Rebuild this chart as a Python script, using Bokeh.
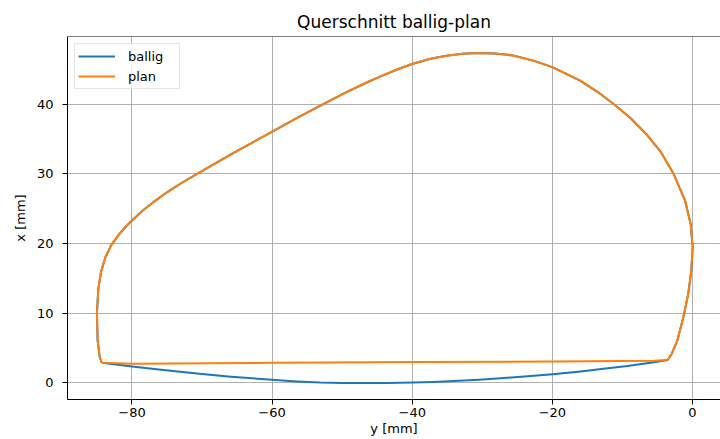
from bokeh.plotting import figure
from bokeh.models import Range1d, FixedTicker, Span
from bokeh.embed import file_html
from bokeh.resources import INLINE

# ---- data ----
# shared outer contour (horizontal value "y [mm]", vertical value "x [mm]")
upper_y = [-84.3, -84.6, -84.9, -84.95, -85.0, -84.8, -84.4, -83.8, -83.0, -82.0,
           -81.0, -80.0, -78.5, -77.0, -75.0, -73.0, -70.7, -65.5, -59.9, -56.3,
           -52.7, -49.6, -46.5, -44.6, -41.7, -39.9, -37.4, -35.1, -32.8, -30.8,
           -28.2, -25.6, -22.6, -20.0, -16.1, -13.6, -11.3, -8.85, -6.5, -4.5,
           -2.7, -1.07, -0.26, 0.03, -0.17, -0.6, -1.31, -2.17, -2.97, -3.55]
upper_x = [2.9, 3.7, 6.1, 8.0, 10.0, 13.5, 16.0, 18.0, 19.7, 21.1,
           22.3, 23.3, 24.7, 25.9, 27.35, 28.65, 30.0, 33.0, 36.1, 38.1,
           40.0, 41.6, 43.1, 43.95, 45.15, 45.8, 46.5, 46.95, 47.22, 47.35,
           47.27, 46.98, 46.2, 45.3, 43.4, 41.8, 40.05, 38.0, 35.6, 33.1,
           30.0, 26.2, 22.8, 19.5, 16.1, 12.8, 9.4, 6.07, 4.16, 3.3]

# bottom edge, "ballig" (crowned)
ballig_bot_y = [-3.55, -5.5, -7.5, -9.3, -12.7, -16.3, -20.0, -23.5, -26.9, -30.5,
                -34.1, -37.0, -40.0, -43.5, -47.0, -50.0, -53.1, -56.5, -60.0, -65.9,
                -70.0, -73.1, -76.5, -80.0, -84.3]
ballig_bot_x = [3.3, 2.98, 2.7, 2.45, 2.03, 1.62, 1.26, 0.95, 0.72, 0.47,
                0.28, 0.15, 0.06, 0.01, 0.0, 0.01, 0.07, 0.22, 0.45, 0.9,
                1.28, 1.6, 1.97, 2.37, 2.9]

# bottom edge, "plan" (flat)
plan_bot_y = [-3.55, -5.5, -20.0, -40.0, -51.7, -60.0, -80.0, -84.3]
plan_bot_x = [3.3, 3.2, 3.08, 3.0, 2.94, 2.9, 2.75, 2.9]

x_ticks = [-80, -60, -40, -20, 0]
x_tick_labels = ["\u221280", "\u221260", "\u221240", "\u221220", "0"]
y_ticks = [0, 10, 20, 30, 40]
y_tick_labels = ["0", "10", "20", "30", "40"]

x_start, x_end = -89.2, 4.0
y_start, y_end = -2.37, 49.7

ballig_h = upper_y + ballig_bot_y
ballig_v = upper_x + ballig_bot_x
plan_h = upper_y + plan_bot_y
plan_v = upper_x + plan_bot_x

FONT = "DejaVu Sans"

p = figure(width=720, height=439, output_backend="svg", toolbar_location=None,
           x_range=Range1d(x_start, x_end), y_range=Range1d(y_start, y_end),
           title="Querschnitt ballig-plan",
           min_border_left=67, min_border_right=0, min_border_top=36,
           min_border_bottom=40)

p.line(ballig_h, ballig_v, line_color="#1f77b4", line_width=2, legend_label="ballig",
       line_join="round")
p.line(plan_h, plan_v, line_color="#ff7f0e", line_width=2, legend_label="plan",
       line_join="round")

p.title.align = "center"
p.title.text_font = FONT
p.title.text_font_size = "17px"
p.title.text_font_style = "normal"
p.title.text_color = "#000000"

p.outline_line_color = None
p.add_layout(Span(location=y_end, dimension="width", line_color="black", line_width=1))

p.xaxis.ticker = FixedTicker(ticks=x_ticks)
p.yaxis.ticker = FixedTicker(ticks=y_ticks)
p.xaxis.major_label_overrides = {t: l for t, l in zip(x_ticks, x_tick_labels)}
p.yaxis.major_label_overrides = {t: l for t, l in zip(y_ticks, y_tick_labels)}
p.xaxis.axis_label = "y [mm]"
p.yaxis.axis_label = "x [mm]"

for ax in (p.xaxis, p.yaxis):
    ax.axis_label_text_font = FONT
    ax.axis_label_text_font_size = "13px"
    ax.axis_label_text_font_style = "normal"
    ax.axis_label_text_color = "#000000"
    ax.major_label_text_font = FONT
    ax.major_label_text_font_size = "13px"
    ax.major_label_text_color = "#000000"
    ax.axis_line_color = "black"
    ax.major_tick_line_color = "black"
    ax.major_tick_out = 5
    ax.major_tick_in = 0
    ax.minor_tick_line_color = None

p.xaxis.major_label_standoff = 3
p.xaxis.axis_label_standoff = 1
p.yaxis.major_label_standoff = 9
p.yaxis.axis_label_standoff = 6

p.xgrid.grid_line_color = "#b0b0b0"
p.ygrid.grid_line_color = "#b0b0b0"
p.xgrid.grid_line_width = 1
p.ygrid.grid_line_width = 1

lg = p.legend[0]
lg.location = "top_left"
lg.margin = 7
lg.padding = 3
lg.spacing = 2
lg.glyph_width = 37
lg.glyph_height = 18
lg.label_height = 18
lg.label_width = 48
lg.label_standoff = 13
lg.label_text_font = FONT
lg.label_text_font_size = "13px"
lg.label_text_color = "#000000"
lg.border_line_color = "#cccccc"
lg.background_fill_alpha = 0.8

open("out.html", "w").write(file_html(p, INLINE))
